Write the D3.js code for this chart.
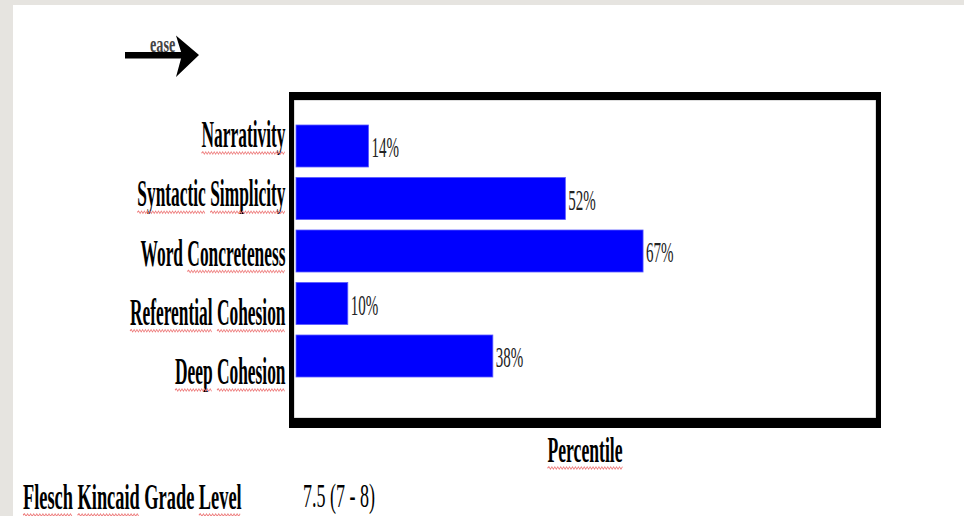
<!DOCTYPE html>
<html>
<head>
<meta charset="utf-8">
<script src="https://cdn.jsdelivr.net/npm/d3@7/dist/d3.min.js"></script>
<style>
  html, body { margin: 0; padding: 0; background: #ffffff; }
  svg { display: block; }
</style>
</head>
<body>
<svg id="chart" width="964" height="516"></svg>
<script>
// Text-easability components and their percentile scores
const categories = ["Narrativity", "Syntactic Simplicity", "Word Concreteness", "Referential Cohesion", "Deep Cohesion"];
const percentiles = [14, 52, 67, 10, 38];
// Words flagged by the spell checker (drawn with a red wavy underline)
const flaggedWords = ["Narrativity", "Syntactic", "Simplicity", "Concreteness", "Referential", "Cohesion", "Deep", "Percentile", "Flesch", "Kincaid", "Level"];
const axisTitle = "Percentile";
const gradeLabel = "Flesch Kincaid Grade Level";
const gradeValue = "7.5 (7 - 8)";
const arrowLabel = "ease";

const W = 964, H = 516;
const svg = d3.select("#chart");
const FONT = "'Liberation Serif', 'Times New Roman', serif";
const SX = 0.5; // narrow face: glyphs compressed horizontally

// slide background with grey margin at top and left
svg.append("rect").attr("x", 0).attr("y", 0).attr("width", W).attr("height", H).attr("fill", "#e6e4e0");
svg.append("rect").attr("x", 13).attr("y", 5).attr("width", W - 13).attr("height", H - 5).attr("fill", "#ffffff");

// plot frame
const frame = { x0: 289, y0: 92, x1: 881, y1: 428 };
const x = d3.scaleLinear().domain([0, 100]).range([296, 814]);
const yBar = d3.scaleBand().domain(categories).range([119.75, 382.25]).paddingInner(0.2).paddingOuter(0.1);
const yLabel = d3.scalePoint().domain(categories).range([147, 384]);

// compressed text with optional wavy underlines for flagged words
function squiggle(x0, x1, y) {
  const p = d3.path();
  p.moveTo(x0, y);
  let up = true;
  for (let xx = x0 + 3; xx <= x1; xx += 3) { p.lineTo(xx, y + (up ? -1.2 : 1.2)); up = !up; }
  return p.toString();
}
function ctext(parent, px, py, str, opt) {
  const g = parent.append("g").attr("transform", `translate(${px},${py}) scale(${opt.sx || SX},1)`);
  const t = g.append("text")
    .attr("font-family", FONT)
    .attr("font-size", opt.size)
    .attr("font-weight", opt.weight || "normal")
    .attr("text-anchor", opt.anchor || "start")
    .attr("fill", opt.fill || "#000")
    .text(str);
  if (opt.underline) {
    const node = t.node();
    let idx = 0;
    str.split(" ").forEach(w => {
      if (flaggedWords.includes(w)) {
        const sx0 = node.getStartPositionOfChar(idx).x;
        const wl = node.getSubStringLength(idx, w.length);
        g.append("path").attr("d", squiggle(sx0, sx0 + wl, 6))
          .attr("fill", "none").attr("stroke", "#ee7f7f").attr("stroke-width", 1.4);
      }
      idx += w.length + 1;
    });
  }
  return g;
}

// bars
svg.append("g").selectAll("rect").data(categories).join("rect")
  .attr("x", x(0))
  .attr("y", d => yBar(d))
  .attr("width", (d, i) => x(percentiles[i]) - x(0))
  .attr("height", yBar.bandwidth())
  .attr("fill", "#0000ff")
  .attr("stroke", "#5a5aff")
  .attr("stroke-width", 0.8);

// value labels
const valG = svg.append("g");
categories.forEach((c, i) => {
  ctext(valG, x(percentiles[i]) + 3, yBar(c) + yBar.bandwidth() / 2 + 11, percentiles[i] + "%",
    { size: 30, fill: "#222" });
});

// category labels
const catG = svg.append("g");
categories.forEach(c => {
  ctext(catG, 285.5, yLabel(c), c, { size: 37, weight: "bold", anchor: "end", underline: true, sx: 0.47 });
});

// frame borders (heavier top and bottom edges)
const fr = svg.append("g").attr("fill", "#000");
fr.append("rect").attr("x", frame.x0 + 5).attr("y", frame.y0 + 8).attr("width", frame.x1 - frame.x0 - 10).attr("height", frame.y1 - frame.y0 - 18)
  .attr("fill", "none").attr("stroke", "#aaa").attr("stroke-width", 0.8);
fr.append("rect").attr("x", frame.x0).attr("y", frame.y0).attr("width", frame.x1 - frame.x0).attr("height", 8);
fr.append("rect").attr("x", frame.x0).attr("y", frame.y1 - 10).attr("width", frame.x1 - frame.x0).attr("height", 10);
fr.append("rect").attr("x", frame.x0).attr("y", frame.y0).attr("width", 5).attr("height", frame.y1 - frame.y0);
fr.append("rect").attr("x", frame.x1 - 5).attr("y", frame.y0).attr("width", 5).attr("height", frame.y1 - frame.y0);

// axis title
ctext(svg, (frame.x0 + frame.x1) / 2, 462, axisTitle, { size: 36, weight: "bold", anchor: "middle", underline: true, sx: 0.49 });

// grade level line
ctext(svg, 23, 509, gradeLabel, { size: 36, weight: "bold", underline: true, sx: 0.51 });
ctext(svg, 303, 507, gradeValue, { size: 34, sx: 0.53 });

// "ease" direction arrow
const arrow = svg.append("g");
arrow.append("rect").attr("x", 125).attr("y", 52).attr("width", 57).attr("height", 6.5).attr("fill", "#000");
arrow.append("path").attr("d", "M199,55 L176,35.5 L182,55 L176,77 Z").attr("fill", "#000");
ctext(arrow, 150, 52, arrowLabel, { size: 23, weight: "bold", sx: 0.62, fill: "#444" });
</script>
</body>
</html>
